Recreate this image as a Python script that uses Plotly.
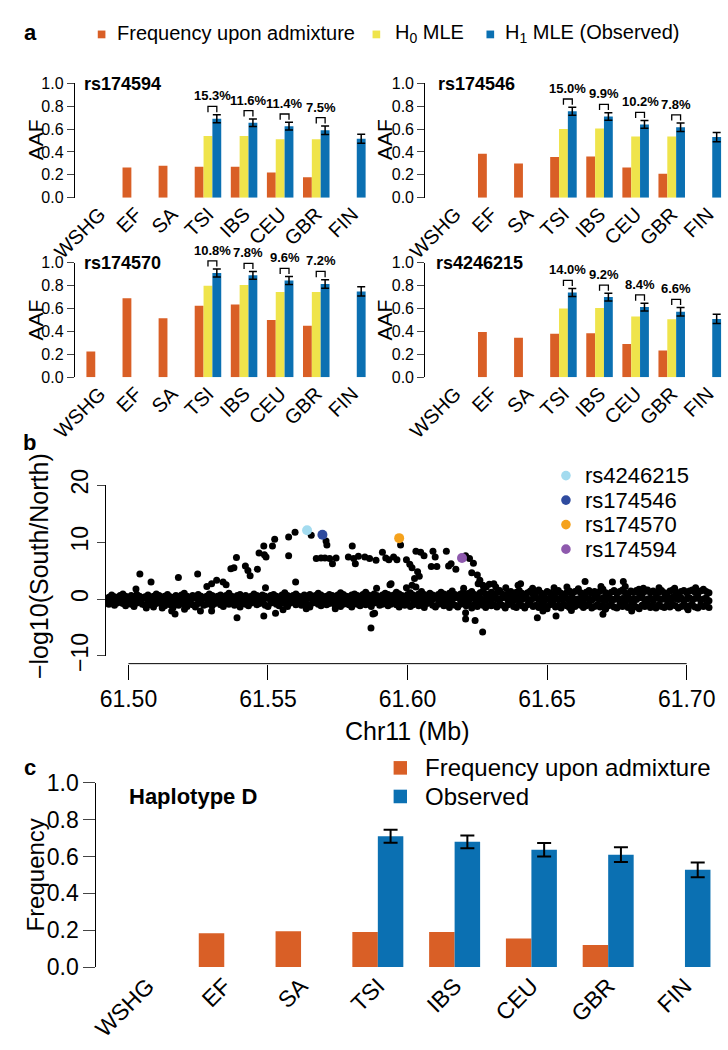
import plotly.graph_objects as go

W, H = 728, 1050
FONT = "Liberation Sans, Arial, Helvetica, sans-serif"
ORANGE = "#d95f26"
YELLOW = "#efe44b"
BLUE = "#0b70b2"

pops = ["WSHG", "EF", "SA", "TSI", "IBS", "CEU", "GBR", "FIN"]
pct_pops = ["TSI", "IBS", "CEU", "GBR"]

# a) alternative allele frequency for four SNPs
rs174594_admix = [None, 0.265, 0.28, 0.27, 0.27, 0.22, 0.18, None]
rs174594_h0 = [None, None, None, 0.54, 0.54, 0.51, 0.51, None]
rs174594_obs = [None, None, None, 0.69, 0.655, 0.625, 0.59, 0.515]
rs174594_pct = ["15.3%", "11.6%", "11.4%", "7.5%"]

rs174546_admix = [None, 0.385, 0.30, 0.355, 0.36, 0.265, 0.21, None]
rs174546_h0 = [None, None, None, 0.60, 0.605, 0.535, 0.535, None]
rs174546_obs = [None, None, None, 0.755, 0.71, 0.64, 0.615, 0.53]
rs174546_pct = ["15.0%", "9.9%", "10.2%", "7.8%"]

rs174570_admix = [0.225, 0.69, 0.515, 0.625, 0.635, 0.50, 0.45, None]
rs174570_h0 = [None, None, None, 0.80, 0.805, 0.745, 0.745, None]
rs174570_obs = [None, None, None, 0.91, 0.89, 0.845, 0.815, 0.75]
rs174570_pct = ["10.8%", "7.8%", "9.6%", "7.2%"]

rs4246215_admix = [None, 0.395, 0.345, 0.38, 0.385, 0.29, 0.235, None]
rs4246215_h0 = [None, None, None, 0.60, 0.605, 0.53, 0.507, None]
rs4246215_obs = [None, None, None, 0.74, 0.70, 0.613, 0.572, 0.51]
rs4246215_pct = ["14.0%", "9.2%", "8.4%", "6.6%"]

obs_err = [None, None, None, 0.035, 0.033, 0.034, 0.037, 0.04]

# b) -log10(South/North) along chr11
band_kb = [
    61492, 61493, 61494, 61495, 61496, 61497, 61498, 61499, 61500, 61501,
    61502, 61503, 61504, 61505, 61506, 61507, 61508, 61509, 61510, 61511,
    61512, 61513, 61514, 61515, 61516, 61517, 61518, 61519, 61520, 61521,
    61522, 61523, 61524, 61525, 61526, 61527, 61528, 61529, 61530, 61531,
    61532, 61533, 61534, 61535, 61536, 61537, 61538, 61539, 61540, 61541,
    61542, 61543, 61544, 61545, 61546, 61547, 61548, 61549, 61550, 61551,
    61552, 61553, 61554, 61555, 61556, 61557, 61558, 61559, 61560, 61561,
    61562, 61563, 61564, 61565, 61566, 61567, 61568, 61569, 61570, 61571,
    61572, 61573, 61574, 61575, 61576, 61577, 61578, 61579, 61580, 61581,
    61582, 61583, 61584, 61585, 61586, 61587, 61588, 61589, 61590, 61591,
    61592, 61593, 61594, 61595, 61596, 61597, 61598, 61599, 61600, 61601,
    61602, 61603, 61604, 61605, 61606, 61607, 61608, 61609, 61610, 61611,
    61612, 61613, 61614, 61615, 61616, 61617, 61618, 61619, 61620, 61621,
    61622, 61623, 61624, 61625, 61626, 61627, 61628, 61629, 61630, 61631,
    61632, 61633, 61634, 61635, 61636, 61637, 61638, 61639, 61640, 61641,
    61642, 61643, 61644, 61645, 61646, 61647, 61648, 61649, 61650, 61651,
    61652, 61653, 61654, 61655, 61656, 61657, 61658, 61659, 61660, 61661,
    61662, 61663, 61664, 61665, 61666, 61667, 61668, 61669, 61670, 61671,
    61672, 61673, 61674, 61675, 61676, 61677, 61678, 61679, 61680, 61681,
    61682, 61683, 61684, 61685, 61686, 61687, 61688, 61689, 61690, 61691,
    61692, 61693, 61694, 61695, 61696, 61697, 61698, 61699, 61700, 61701,
    61702, 61703, 61704, 61705, 61706, 61707, 61708, 61709, 61710,
]
band_hi = [
    0.5, 0.3, 0.7, 0.4, 0.2, 0.6, 0.9, 0.5, 0.3, 0.6,
    0.4, 0.8, 0.5, 0.2, 0.4, 0.7, 0.3, 0.5, 0.9, 0.6,
    0.3, 0.5, 0.8, 0.4, 0.2, 0.6, 0.4, 0.7, 1.0, 0.5,
    0.3, 0.6, 0.4, 0.8, 0.5, 0.2, 0.5, 0.9, 0.6, 0.3,
    0.5, 0.7, 0.4, 0.6, 1.0, 0.5, 0.3, 0.6, 0.8, 0.4,
    0.6, 0.3, 0.5, 0.9, 0.6, 0.4, 0.7, 0.5, 0.2, 0.6,
    0.8, 0.5, 0.3, 0.7, 1.1, 0.6, 0.4, 0.6, 0.9, 0.5,
    0.3, 0.7, 0.5, 0.8, 0.4, 0.6, 1.0, 0.7, 0.4, 0.5,
    0.8, 0.6, 0.3, 0.7, 1.1, 0.8, 0.5, 0.4, 0.7, 0.9,
    0.6, 0.4, 0.8, 1.2, 0.7, 0.5, 0.9, 0.6, 0.3, 0.7,
    1.0, 0.8, 0.5, 0.7, 1.2, 0.9, 0.6, 0.4, 0.8, 1.1,
    0.7, 0.5, 0.9, 1.3, 0.8, 0.6, 1.0, 0.7, 0.4, 0.8,
    1.2, 0.9, 0.6, 1.0, 1.4, 0.8, 0.5, 0.9, 1.2, 0.7,
    1.0, 1.3, 0.8, 0.6, 1.1, 1.4, 0.9, 0.7, 1.2, 0.8,
    1.1, 1.5, 0.9, 0.6, 1.0, 1.3, 0.8, 1.2, 1.5, 1.0,
    0.7, 1.1, 1.4, 0.9, 1.2, 1.6, 1.0, 0.8, 1.3, 1.1,
    0.8, 1.2, 1.5, 1.0, 0.7, 1.1, 1.4, 0.9, 1.3, 1.6,
    1.1, 0.8, 1.2, 1.5, 1.0, 1.3, 0.9, 1.4, 1.7, 1.1,
    0.8, 1.2, 1.5, 1.0, 1.3, 1.6, 1.1, 0.9, 1.4, 1.2,
    1.5, 1.0, 0.8, 1.3, 1.6, 1.1, 1.4, 1.0, 1.2, 1.5,
    1.1, 0.9, 1.4, 1.6, 1.2, 1.0, 1.3, 1.5, 1.1, 1.4,
    1.6, 1.2, 1.0, 1.4, 1.7, 1.3, 1.1, 1.5, 1.2,
]
band_mid = [
    0.1, -0.2, 0.3, 0.0, -0.3, 0.2, -0.1, 0.3, -0.2, 0.1,
    -0.1, 0.2, -0.3, 0.1, 0.3, -0.2, 0.0, 0.2, -0.3, 0.1,
    0.3, -0.1, 0.1, -0.3, 0.2, 0.0, -0.2, 0.3, -0.1, 0.2,
    -0.2, 0.1, 0.3, -0.1, -0.3, 0.2, 0.1, -0.2, 0.0, 0.3,
    -0.1, 0.2, -0.2, 0.3, 0.1, -0.3, 0.0, 0.2, -0.1, 0.1,
    0.2, -0.3, 0.1, 0.0, -0.2, 0.3, -0.1, 0.1, 0.2, -0.2,
    0.0, 0.3, -0.1, -0.3, 0.2, 0.1, -0.2, 0.3, 0.0, -0.1,
    0.2, -0.2, 0.1, 0.3, -0.3, 0.0, 0.2, -0.1, 0.1, -0.2,
    0.3, 0.1, -0.2, 0.0, 0.2, -0.3, 0.1, 0.3, -0.1, 0.0,
    -0.2, 0.2, 0.1, -0.3, 0.3, 0.0, -0.1, 0.2, -0.2, 0.1,
    0.1, -0.1, 0.3, 0.2, -0.2, 0.0, 0.3, -0.3, 0.1, 0.2,
    -0.1, 0.0, 0.2, -0.2, 0.1, 0.3, -0.3, 0.0, 0.2, -0.1,
    0.3, -0.2, 0.0, 0.1, -0.1, 0.2, 0.3, -0.3, 0.1, 0.0,
    -0.2, 0.3, 0.1, -0.1, 0.2, -0.3, 0.0, 0.2, -0.2, 0.3,
    0.0, -0.1, 0.2, 0.3, -0.2, 0.1, -0.3, 0.0, 0.3, -0.1,
    0.2, 0.0, -0.2, 0.1, 0.3, -0.1, 0.2, -0.3, 0.0, 0.1,
    -0.3, 0.2, 0.0, -0.1, 0.3, 0.1, -0.2, 0.2, -0.1, 0.0,
    0.1, -0.3, 0.2, 0.0, -0.2, 0.3, 0.1, -0.1, 0.2, -0.2,
    0.3, 0.0, -0.1, 0.2, -0.3, 0.1, 0.0, 0.3, -0.2, 0.1,
    -0.1, 0.2, 0.3, -0.2, 0.0, 0.1, -0.3, 0.2, 0.1, -0.1,
    0.2, -0.2, 0.0, 0.3, 0.1, -0.1, 0.2, -0.3, 0.0, 0.2,
    -0.1, 0.1, 0.3, -0.2, 0.0, 0.2, -0.3, 0.1, -0.1,
]
band_lo = [
    -0.6, -0.9, -0.4, -1.1, -0.7, -0.3, -0.8, -1.2, -0.5, -0.9,
    -1.3, -0.7, -0.4, -0.9, -1.1, -0.6, -1.0, -1.4, -0.8, -0.5,
    -0.9, -1.2, -0.6, -1.0, -1.5, -0.8, -1.1, -0.5, -0.9, -1.3,
    -0.7, -1.0, -1.4, -0.8, -0.5, -1.1, -0.9, -0.6, -1.2, -0.8,
    -0.4, -1.0, -1.3, -0.7, -0.9, -0.5, -1.1, -0.8, -1.4, -0.6,
    -0.9, -1.2, -0.7, -0.4, -1.0, -0.8, -0.5, -1.1, -1.3, -0.7,
    -0.5, -0.9, -1.2, -0.6, -0.8, -1.3, -0.7, -0.4, -1.0, -0.8,
    -1.1, -0.6, -0.9, -1.4, -0.7, -0.5, -0.9, -1.2, -0.6, -1.0,
    -0.8, -0.5, -1.1, -0.7, -1.3, -0.9, -0.6, -1.0, -1.4, -0.7,
    -0.9, -1.2, -0.6, -1.0, -0.8, -1.3, -0.7, -0.5, -1.1, -0.9,
    -0.6, -1.2, -0.9, -0.5, -1.0, -1.4, -0.8, -1.1, -0.7, -1.3,
    -1.0, -0.6, -1.2, -0.9, -1.5, -0.8, -0.6, -1.1, -1.4, -0.9,
    -0.7, -1.2, -1.0, -1.5, -0.8, -1.1, -1.4, -0.9, -0.6, -1.2,
    -1.0, -1.6, -0.9, -1.3, -0.7, -1.1, -1.5, -0.8, -1.2, -1.0,
    -1.4, -0.8, -1.1, -1.6, -1.0, -0.7, -1.3, -1.5, -0.9, -1.2,
    -1.6, -1.0, -0.8, -1.3, -1.1, -1.5, -0.9, -1.2, -1.7, -1.0,
    -0.8, -1.4, -1.1, -1.6, -0.9, -1.2, -1.5, -1.0, -1.3, -0.8,
    -1.1, -1.5, -1.2, -0.9, -1.6, -1.3, -1.0, -1.4, -1.1, -1.7,
    -1.2, -0.9, -1.4, -1.6, -1.1, -1.3, -0.8, -1.5, -1.2, -1.0,
    -1.4, -1.7, -1.1, -1.3, -0.9, -1.5, -1.2, -1.6, -1.0, -1.3,
    -1.5, -1.1, -1.4, -0.9, -1.2, -1.6, -1.3, -1.0, -1.5, -1.2,
    -0.9, -1.4, -1.6, -1.1, -1.3, -1.0, -1.5, -1.2, -1.4,
]
peak_pos = [
    61.5027, 61.5041, 61.5081, 61.5179, 61.5248, 61.5281, 61.5298, 61.5316,
    61.5339, 61.5350, 61.5367, 61.5378, 61.5387, 61.5419, 61.5428, 61.5436,
    61.5462, 61.5468, 61.5485, 61.5487, 61.5493, 61.5516, 61.5524, 61.5491,
    61.5574, 61.5574, 61.5597, 61.5599, 61.5655, 61.5708, 61.5711, 61.5673,
    61.5690, 61.5704, 61.5721, 61.5731, 61.5744, 61.5788, 61.5802, 61.5807,
    61.5813, 61.5824, 61.5847, 61.5864, 61.5887, 61.5889, 61.5910, 61.5922,
    61.5933, 61.5950, 61.5962, 61.5975, 61.5996, 61.6008, 61.6016, 61.6030,
    61.6047, 61.6059, 61.6091, 61.6099, 61.6085, 61.6105, 61.6139, 61.6147,
    61.6156, 61.6173, 61.6208, 61.6222, 61.6236, 61.6230, 61.6250, 61.6259,
    61.6036, 61.6042, 61.6025, 61.6030, 61.6016, 61.5996, 61.5937, 61.6201,
    61.6270, 61.6282, 61.6316, 61.6396, 61.6309, 61.6405, 61.6525, 61.6636,
    61.6734, 61.6773, 61.6780, 61.6829, 61.6845, 61.6901, 61.5941, 61.6253,
    61.6293, 61.6352, 61.6448, 61.6571, 61.6612, 61.6693, 61.6957, 61.7032,
]
peak_val = [
    1.75, 4.4, 3.0, 3.8, 4.4, 2.2, 2.7, 3.3,
    3.0, 2.5, 5.3, 5.5, 7.3, 5.8, 5.0, 4.1,
    5.25, 8.1, 9.3, 7.8, 7.4, 9.3, 10.5, 2.0,
    10.9, 7.6, 11.75, 3.0, 11.2, 10.2, 9.5, 7.1,
    7.2, 7.2, 7.1, 6.2, 7.2, 7.4, 9.3, 7.1,
    6.2, 7.5, 7.4, 7.1, 6.8, 1.9, 8.2, 7.2,
    6.9, 7.4, 6.9, 9.5, 6.9, 6.1, 5.5, 8.4,
    8.2, 7.6, 8.4, 7.4, 5.7, 5.7, 8.4, 5.8,
    6.2, 5.25, 7.6, 7.1, 6.3, 4.6, 4.2, 3.3,
    4.8, 4.0, 3.6, 2.1, 2.4, 2.0, 2.5, 1.9,
    2.4, 2.1, 2.1, 2.4, 2.7, 2.7, 2.0, 3.1,
    3.0, 3.1, 2.2, 1.7, 1.9, 2.0, 2.7, 2.7,
    2.6, 2.0, 1.9, 2.1, 1.8, 2.2, 1.9, 2.0,
]
dip_pos = [
    61.5064, 61.5121, 61.5155, 61.5167, 61.5201, 61.5258, 61.5298, 61.5389,
    61.5485, 61.5527, 61.5554, 61.5637, 61.5741, 61.5869, 61.5876, 61.5882,
    61.6208, 61.6208, 61.6242, 61.6269, 61.6465, 61.6485, 61.6532, 61.6700,
    61.6708, 61.6587, 61.6803, 61.7005,
]
dip_val = [
    -1.6, -1.6, -2.1, -2.65, -1.8, -2.1, -2.1, -3.3,
    -3.0, -2.5, -1.9, -1.7, -1.7, -5.1, -2.65, -2.5,
    -3.5, -2.4, -3.8, -5.8, -3.3, -2.1, -3.0, -2.7,
    -1.8, -2.0, -2.1, -1.9,
]
hl_names = ["rs4246215", "rs174546", "rs174570", "rs174594"]
hl_pos = [61.5640, 61.5695, 61.5970, 61.6195]
hl_val = [12.1, 11.3, 10.7, 7.2]
hl_colors = ["#a3dbef", "#2f4b9f", "#f5a21c", "#8e59ad"]

# c) haplotype D frequency
hapD_admix = [None, 0.184, 0.195, 0.19, 0.19, 0.155, 0.12, None]
hapD_obs = [None, None, None, 0.71, 0.68, 0.637, 0.61, 0.528]
hapD_err = [None, None, None, 0.035, 0.035, 0.037, 0.04, 0.04]


def px(x):
    return x / W


def py(y):
    return 1 - y / H


fig = go.Figure()
shapes = []
annotations = []
axes = {}


def label(x, y, s, size, xanchor="center", yanchor="middle", **kw):
    d = dict(x=px(x), y=py(y), xref="paper", yref="paper", text=s, showarrow=False,
             font=dict(size=size, color="black", family=FONT),
             xanchor=xanchor, yanchor=yanchor)
    d.update(kw)
    annotations.append(d)


idx = list(range(len(pops)))
WA = 0.245
STEP_A = 37.7

a_panels = [
    ("rs174594", rs174594_admix, rs174594_h0, rs174594_obs, rs174594_pct,
     (52, 361, 69.3, 187.5, -0.69), (60, 70), (10.5, 128)),
    ("rs174546", rs174546_admix, rs174546_h0, rs174546_obs, rs174546_pct,
     (418, 728, 69.3, 187.5, -0.83), (429, 70), (375, 128)),
    ("rs174570", rs174570_admix, rs174570_h0, rs174570_obs, rs174570_pct,
     (52, 361, 254.5, 372.7, -0.69), (60, 255), (10.5, 314)),
    ("rs4246215", rs4246215_admix, rs4246215_h0, rs4246215_obs, rs4246215_pct,
     (418, 728, 254.5, 372.7, -0.83), (427, 255), (375, 314)),
]

for k, (name, admix, h0, obs, pct, box, tpos, apos) in enumerate(a_panels, start=1):
    xn = "x" if k == 1 else f"x{k}"
    yn = "y" if k == 1 else f"y{k}"
    left, right, top, bottom, r0 = box
    fig.add_trace(go.Bar(x=idx, y=admix, width=WA, offset=-1.5 * WA,
                         marker=dict(color=ORANGE, line_width=0), xaxis=xn, yaxis=yn))
    fig.add_trace(go.Bar(x=idx, y=h0, width=WA, offset=-0.5 * WA,
                         marker=dict(color=YELLOW, line_width=0), xaxis=xn, yaxis=yn))
    fig.add_trace(go.Bar(x=idx, y=obs, width=WA, offset=0.5 * WA,
                         marker=dict(color=BLUE, line_width=0), xaxis=xn, yaxis=yn,
                         error_y=dict(type="data", array=obs_err, color="black",
                                      thickness=1.5, width=4)))
    axes["xaxis" if k == 1 else f"xaxis{k}"] = dict(
        domain=[px(left), px(right)], range=[r0, r0 + (right - left) / STEP_A],
        tickvals=idx, ticktext=pops, tickangle=-45, ticks="", showline=False,
        showgrid=False, zeroline=False, tickfont=dict(size=20), anchor=yn)
    axes["yaxis" if k == 1 else f"yaxis{k}"] = dict(
        domain=[py(bottom), py(top)], range=[0, 1], tickvals=[0, 0.2, 0.4, 0.6, 0.8, 1.0],
        tickformat=".1f", ticks="outside", ticklen=7, tickwidth=1, showline=True,
        linecolor="black", linewidth=1, showgrid=False, zeroline=False,
        tickfont=dict(size=16), anchor=xn)

    # brackets and percentage labels, placed in page coordinates so they may pass 1.0
    def xp(v):
        return px(left + (v - r0) * STEP_A)

    def yp(v):
        return py(bottom - v * (bottom - top))

    for j, p in enumerate(pct_pops):
        i = pops.index(p)
        low = obs[i] + obs_err[i] + 0.022
        high = low + 0.05
        shapes.append(dict(type="path", xref="paper", yref="paper",
                           path=(f"M {xp(i)},{yp(low)} L {xp(i)},{yp(high)} "
                                 f"L {xp(i + WA)},{yp(high)} L {xp(i + WA)},{yp(low)}"),
                           line=dict(color="black", width=1.3)))
        annotations.append(dict(x=xp(i + WA / 2), y=yp(high), xref="paper", yref="paper",
                                text=f"<b>{pct[j]}</b>", showarrow=False,
                                xanchor="center", yanchor="bottom", yshift=1,
                                font=dict(size=13, color="black", family=FONT)))
    label(tpos[0], tpos[1], f"<b>{name}</b>", 18, xanchor="left")
    label(apos[0], apos[1], "AAF", 21, textangle=-90)

# legend of panel a
for sx, color, tx, txt in [(80, ORANGE, 94, "Frequency upon admixture"),
                           (367, YELLOW, 384, "H<sub>0</sub> MLE"),
                           (486, BLUE, 499, "H<sub>1</sub> MLE (Observed)")]:
    shapes.append(dict(type="rect", xref="paper", yref="paper", x0=px(sx - 4), x1=px(sx + 4),
                       y0=py(23), y1=py(15), fillcolor=color, line_width=0))
    label(tx, 18, txt, 20, xanchor="left")

# panel b
band_x = [k / 1000 for k in band_kb]
for vals in (band_hi, band_lo, band_mid):
    fig.add_trace(go.Scatter(x=band_x, y=vals, mode="markers",
                             marker=dict(color="black", size=7), cliponaxis=False,
                             xaxis="x5", yaxis="y5"))
fig.add_trace(go.Scatter(x=peak_pos + dip_pos, y=peak_val + dip_val, mode="markers",
                         marker=dict(color="black", size=7), cliponaxis=False,
                         xaxis="x5", yaxis="y5"))
fig.add_trace(go.Scatter(x=hl_pos, y=hl_val, mode="markers",
                         marker=dict(color=hl_colors, size=10), cliponaxis=False,
                         xaxis="x5", yaxis="y5"))
axes["xaxis5"] = dict(domain=[px(85), px(715)], range=[61.4921, 61.7082],
                      anchor="free", position=py(668),
                      tickvals=[61.50, 61.55, 61.60, 61.65, 61.70], tickformat=".2f",
                      ticks="outside", ticklen=15, tickwidth=1, tickcolor="black",
                      showline=False, showgrid=False, zeroline=False,
                      tickfont=dict(size=23))
axes["yaxis5"] = dict(domain=[py(660), py(484)], range=[-10, 20], anchor="x5",
                      tickvals=[-10, 0, 10, 20], tickangle=-90, ticks="outside",
                      ticklen=8, tickwidth=1, showline=True, linecolor="black",
                      linewidth=1, showgrid=False, zeroline=False,
                      tickfont=dict(size=23))
shapes.append(dict(type="line", xref="x5", yref="paper", x0=61.5, x1=61.7,
                   y0=py(668), y1=py(668), line=dict(color="black", width=1)))
label(14, 567, "\u2212log10(South/North)", 25, textangle=-90)
label(400, 737, "Chr11 (Mb)", 25)
for r, (nm, col) in enumerate(zip(hl_names, hl_colors)):
    yc = 474 + r * 25.3
    shapes.append(dict(type="circle", xref="paper", yref="paper", x0=px(560), x1=px(570),
                       y0=py(yc + 5), y1=py(yc - 5), fillcolor=col, line_width=0))
    label(583, yc, nm, 22, xanchor="left")

# panel c
WC = 0.332
fig.add_trace(go.Bar(x=idx, y=hapD_admix, width=WC, offset=-WC,
                     marker=dict(color=ORANGE, line_width=0), xaxis="x6", yaxis="y6"))
fig.add_trace(go.Bar(x=idx, y=hapD_obs, width=WC, offset=0,
                     marker=dict(color=BLUE, line_width=0), xaxis="x6", yaxis="y6",
                     error_y=dict(type="data", array=hapD_err, color="black",
                                  thickness=2, width=7)))
axes["xaxis6"] = dict(domain=[px(74.6), px(721.4)], range=[-0.665, 7.4],
                      tickvals=idx, ticktext=pops, tickangle=-45, ticks="",
                      showline=False, showgrid=False, zeroline=False,
                      tickfont=dict(size=23), anchor="y6")
axes["yaxis6"] = dict(domain=[py(981), py(791)], range=[0, 1],
                      tickvals=[0, 0.2, 0.4, 0.6, 0.8, 1.0], tickformat=".1f",
                      ticks="outside", ticklen=12, tickwidth=1, showline=True,
                      linecolor="black", linewidth=1, showgrid=False, zeroline=False,
                      tickfont=dict(size=23), anchor="x6")
label(107, 805, "<b>Haplotype D</b>", 22, xanchor="left")
label(11, 886, "Frequency", 24, textangle=-90)
for yc, color, txt in [(775.5, ORANGE, "Frequency upon admixture"), (805, BLUE, "Observed")]:
    shapes.append(dict(type="rect", xref="paper", yref="paper", x0=px(385), x1=px(399),
                       y0=py(yc + 7), y1=py(yc - 7), fillcolor=color, line_width=0))
    label(416, yc, txt, 24, xanchor="left")

# panel letters
label(6, 17, "<b>a</b>", 22)
label(5, 440, "<b>b</b>", 22)
label(5, 775, "<b>c</b>", 22)

fig.update_layout(
    width=W, height=H, margin=dict(l=0, r=0, t=0, b=0),
    paper_bgcolor="white", plot_bgcolor="white",
    font=dict(family=FONT, color="black"),
    barmode="overlay", showlegend=False,
    shapes=shapes, annotations=annotations, **axes)

# the page body has a default 8px margin; drop it so the figure fills the window
fig.write_html("out.html", config={"displayModeBar": False},
               post_script="document.body.style.margin = '0';")
